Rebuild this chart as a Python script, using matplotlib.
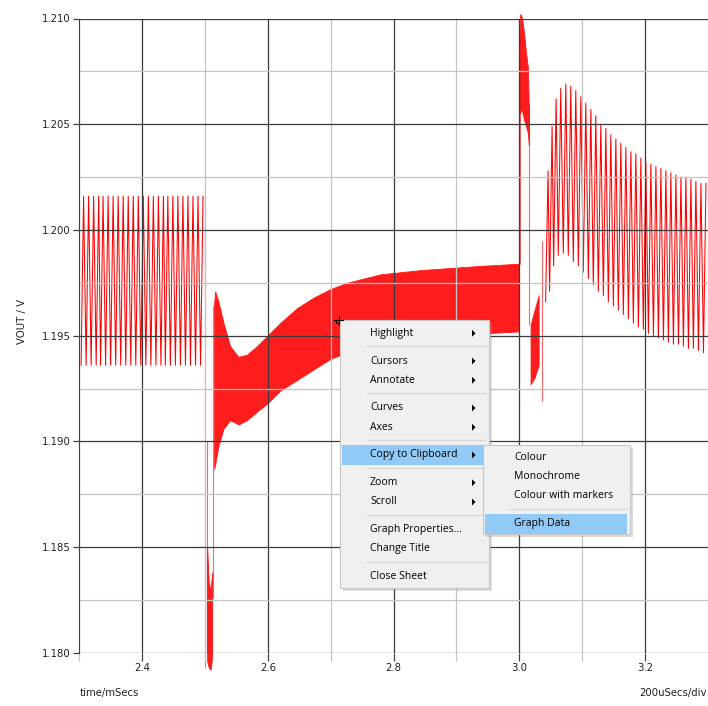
# -- VOUT transient (load step) screenshot with context menu

import numpy as np
import matplotlib
matplotlib.use("Agg")
import matplotlib.pyplot as plt
from matplotlib.patches import Rectangle, Polygon
from matplotlib.ticker import MultipleLocator, FormatStrFormatter

# Data (time in ms, VOUT in V)
ripple_half = 0.00395        # half of the ~7.9 us switching period

# steady ripple before the step
left_t  = [2.303, 2.311, 2.319, 2.327, 2.334, 2.342, 2.350, 2.358, 2.366,
           2.374, 2.382, 2.390, 2.398, 2.406, 2.414, 2.422, 2.430, 2.437,
           2.445, 2.453, 2.461, 2.469, 2.477, 2.485, 2.493]
left_hi = 1.2016
left_lo = 1.1936

# dense ripple band between the steps (envelopes)
band_t  = [2.5146, 2.5162, 2.5215, 2.5295, 2.5401, 2.5533, 2.5667, 2.5826,
           2.5995, 2.6197, 2.6463, 2.6728, 2.6994, 2.7260, 2.7524, 2.7790,
           2.8427, 2.8904, 2.9382, 2.9987]
band_hi = [1.1965, 1.1971, 1.1966, 1.1956, 1.1945, 1.1940, 1.1941, 1.1945,
           1.1950, 1.1956, 1.1963, 1.1968, 1.1972, 1.1975, 1.1977, 1.1979,
           1.1981, 1.1982, 1.1983, 1.1984]
band_lo = [1.1887, 1.1889, 1.1898, 1.1906, 1.1910, 1.1908, 1.1910, 1.1914,
           1.1918, 1.1924, 1.1929, 1.1934, 1.1939, 1.1942, 1.1944, 1.1946,
           1.1949, 1.1950, 1.1951, 1.1952]

# undershoot at 2.5 ms
dip_t  = [2.5035, 2.5060, 2.5090, 2.5115]
dip_hi = [1.1850, 1.1833, 1.1830, 1.1838]
dip_lo = [1.1796, 1.1793, 1.1792, 1.1798]

# overshoot at 3.0 ms
ov_t  = [3.0010, 3.0020, 3.0045, 3.0075, 3.0105, 3.0135, 3.0150]
ov_hi = [1.2087, 1.2102, 1.2100, 1.2093, 1.2084, 1.2077, 1.2059]
ov_lo = [1.2055, 1.2057, 1.2056, 1.2052, 1.2049, 1.2046, 1.2040]

# short dense section after the overshoot
ps_t  = [3.0178, 3.0240, 3.0306]
ps_hi = [1.1955, 1.1962, 1.1969]
ps_lo = [1.1927, 1.1930, 1.1936]

# single edges during the transients
spike_t  = [2.5003, 2.5027, 2.5126, 3.0008, 3.0151, 3.0354]
spike_lo = [1.1793, 1.1800, 1.1826, 1.1984, 1.1955, 1.1919]
spike_hi = [1.2016, 1.1900, 1.1964, 1.2102, 1.2059, 1.1995]

# decaying ripple after the step
right_t  = [3.0417, 3.0481, 3.0545, 3.0619, 3.0699, 3.0778, 3.0858, 3.0938,
            3.1017, 3.1097, 3.1176, 3.1256, 3.1336, 3.1415, 3.1495, 3.1574,
            3.1654, 3.1734, 3.1813, 3.1893, 3.1972, 3.2052, 3.2132, 3.2211,
            3.2291, 3.2370, 3.2450, 3.2530, 3.2609, 3.2689, 3.2768, 3.2848,
            3.2928]
right_hi = [1.2028, 1.2049, 1.2062, 1.2067, 1.2069, 1.2068, 1.2066, 1.2063,
            1.2060, 1.2057, 1.2054, 1.2050, 1.2048, 1.2045, 1.2043, 1.2041,
            1.2039, 1.2037, 1.2036, 1.2034, 1.2032, 1.2031, 1.2030, 1.2029,
            1.2028, 1.2027, 1.2026, 1.2025, 1.2025, 1.2024, 1.2023, 1.2022,
            1.2022]
right_lo = [1.1966, 1.1971, 1.1983, 1.1988, 1.1989, 1.1988, 1.1985, 1.1983,
            1.1980, 1.1977, 1.1974, 1.1971, 1.1969, 1.1966, 1.1964, 1.1962,
            1.1960, 1.1958, 1.1956, 1.1954, 1.1953, 1.1951, 1.1950, 1.1949,
            1.1948, 1.1947, 1.1946, 1.1946, 1.1945, 1.1944, 1.1944, 1.1943,
            1.1942]

# context menu contents (None = separator)
menu_items = ["Highlight", None, "Cursors", "Annotate", None, "Curves", "Axes",
              None, "Copy to Clipboard", None, "Zoom", "Scroll", None,
              "Graph Properties...", "Change Title", None, "Close Sheet"]
menu_arrows = {"Highlight", "Cursors", "Annotate", "Curves", "Axes",
               "Copy to Clipboard", "Zoom", "Scroll"}
sub_items = ["Colour", "Monochrome", "Colour with markers", None, "Graph Data"]


def zigzag(t, lo, hi):
    t = np.asarray(t, dtype=float)
    xs = np.empty(2 * len(t))
    ys = np.empty(2 * len(t))
    xs[0::2] = t
    xs[1::2] = t + ripple_half
    ys[0::2] = lo
    ys[1::2] = hi
    return xs, ys


W, H = 708, 706
RED = "#ff0000"
BAND = "#ff1c1c"
plt.rcParams["font.family"] = "DejaVu Sans"

fig = plt.figure(figsize=(W / 100, H / 100), dpi=100)
ax = fig.add_axes([79.2 / W, 1 - 652.8 / H, (708 - 79.2) / W, (652.8 - 18.5) / H])

# waveform
xs, ys = zigzag(left_t, left_lo, left_hi)
ax.plot(xs, ys, color=RED, lw=0.75)
xs, ys = zigzag(right_t, right_lo, right_hi)
ax.plot(xs, ys, color=RED, lw=0.75)

ax.fill_between(band_t, band_lo, band_hi, color=BAND, lw=0.6, edgecolor=BAND)
ax.fill_between(dip_t, dip_lo, dip_hi, color=BAND, lw=0.6, edgecolor=BAND, clip_on=False)
ax.fill_between(ov_t, ov_lo, ov_hi, color=BAND, lw=0.6, edgecolor=BAND, clip_on=False)
ax.fill_between(ps_t, ps_lo, ps_hi, color=BAND, lw=0.6, edgecolor=BAND)
ax.vlines(spike_t, spike_lo, spike_hi, color=RED, lw=0.8, alpha=0.6, clip_on=False)

# axes
ax.set_xlim(2.3, 3.3)
ax.set_ylim(1.180, 1.210)
ax.xaxis.set_major_locator(MultipleLocator(0.2))
ax.xaxis.set_minor_locator(MultipleLocator(0.1))
ax.yaxis.set_major_locator(MultipleLocator(0.005))
ax.yaxis.set_minor_locator(MultipleLocator(0.0025))
ax.xaxis.set_major_formatter(FormatStrFormatter("%.1f"))
ax.yaxis.set_major_formatter(FormatStrFormatter("%.3f"))
ax.set_axisbelow(False)
ax.grid(True, which="major", color="#3a3a3a", lw=0.9)
ax.grid(True, which="minor", color="#c4c4c4", lw=0.9)
for side in ["top", "right", "bottom"]:
    ax.spines[side].set_visible(False)
ax.spines["left"].set_color("#404040")
ax.spines["left"].set_zorder(3)
ax.tick_params(axis="x", which="major", length=6, width=0.9, color="#404040",
               pad=1.5, labelsize=7.3, labelcolor="#202020")
ax.tick_params(axis="x", which="minor", length=6, width=0.9, color="#c4c4c4")
ax.tick_params(axis="y", which="major", length=4, width=0.9, color="#404040",
               pad=2, labelsize=7.3, labelcolor="#202020")
ax.tick_params(axis="y", which="minor", length=0)

fig.text(80 / W, 1 - 693 / H, "time/mSecs", fontsize=7.3, color="#202020",
         ha="left", va="center")
fig.text(707 / W, 1 - 693 / H, "200uSecs/div", fontsize=7.3, color="#202020",
         ha="right", va="center")
fig.text(22 / W, 1 - 322 / H, "VOUT / V", fontsize=7.3, color="#202020",
         rotation=90, ha="center", va="center")

# overlay in screen pixels for the cursor and the popup menu
ov = fig.add_axes([0, 0, 1, 1])
ov.set_xlim(0, W)
ov.set_ylim(H, 0)
ov.axis("off")
ov.patch.set_alpha(0)

ov.plot([334, 343], [320, 320], color="black", lw=0.8)
ov.plot([338.5, 338.5], [315.5, 325], color="black", lw=0.8)
ov.add_patch(Rectangle((335.5, 319.5), 3, 3, fill=False, ec="black", lw=0.7))

MENU_FONT = dict(family="Open Sans", fontsize=7.5, color="black",
                 va="center", ha="left")
ROW, SEP = 19.3, 8.4
HILITE = "#91c9f7"


def draw_menu(x0, y0, x1, y1, items, first_y, text_x, sep_x0, sep_x1,
              arrow_x=None, hilite=None, hx0=None, hx1=None):
    # shadow, then body
    ov.add_patch(Rectangle((x0 + 3, y0 + 3), x1 - x0, y1 - y0,
                           color="#9a9a9a", alpha=0.35, lw=0))
    ov.add_patch(Rectangle((x0, y0), x1 - x0, y1 - y0,
                           fc="#f0f0f0", ec="#c6c6c6", lw=0.8))
    y = first_y
    for item in items:
        if item is None:
            ov.plot([sep_x0, sep_x1], [y - ROW + 12.7, y - ROW + 12.7],
                    color="#d6d6d6", lw=0.9)
            y += SEP
            continue
        if item == hilite:
            ov.add_patch(Rectangle((hx0, y - 10), hx1 - hx0, 20,
                                   fc=HILITE, lw=0))
        ov.text(text_x, y, item, **MENU_FONT)
        if arrow_x is not None and item in menu_arrows:
            ov.add_patch(Polygon([(arrow_x, y - 3.5), (arrow_x, y + 3.5),
                                  (arrow_x + 3.5, y)], closed=True,
                                 color="black", lw=0))
        y += ROW


draw_menu(340, 320, 489, 588, menu_items, 333.3, 370, 366.7, 485,
          arrow_x=472, hilite="Copy to Clipboard", hx0=341.5, hx1=483)
draw_menu(483, 445, 630, 533.5, sub_items, 457.3, 514, 510, 626.7,
          hilite="Graph Data", hx0=485.3, hx1=627)

plt.savefig("out.png", dpi=100)
print("Saved: out.png")
